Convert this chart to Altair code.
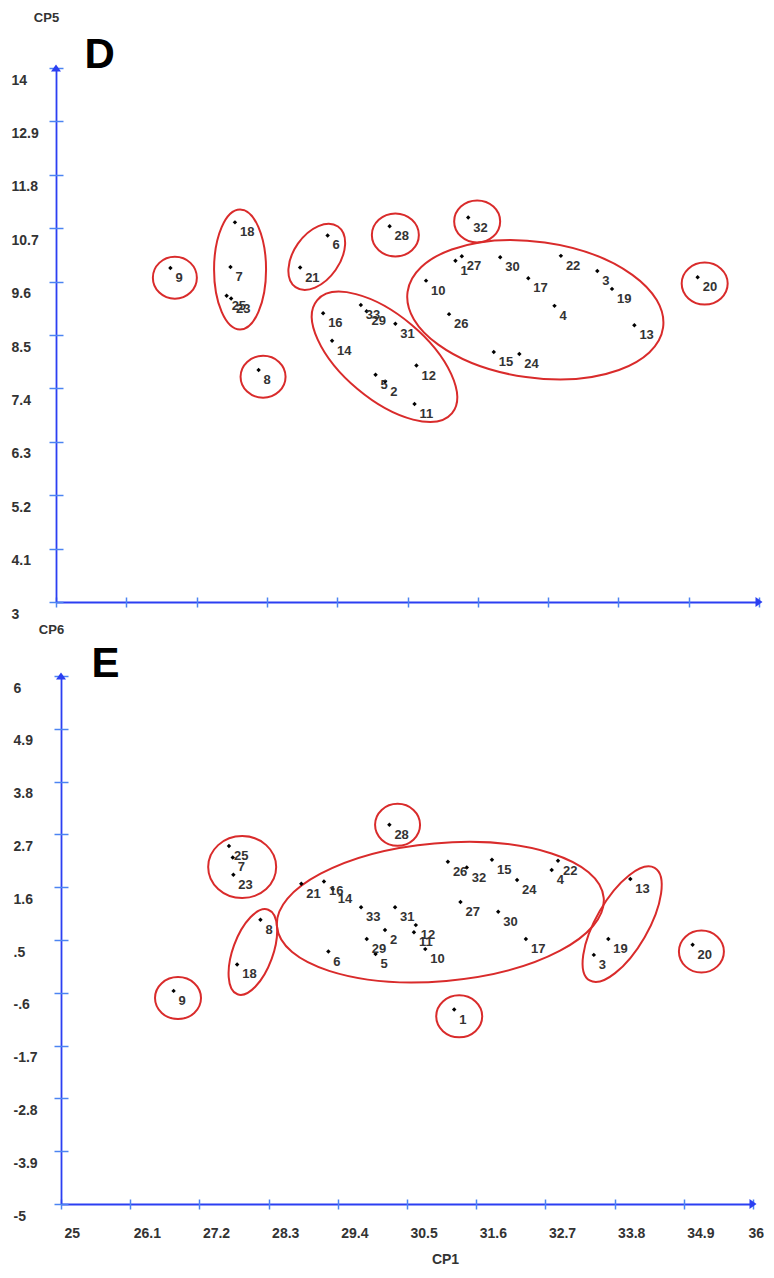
import altair as alt
import pandas as pd

# ---------------- data ----------------
ids = [str(i) for i in range(1, 34)]
cp1 = [31.25, 30.15, 33.47, 32.80, 30.00, 29.25, 27.73, 28.17, 26.79, 30.79,
       30.61, 30.64, 34.05, 29.32, 31.85, 29.18, 32.39, 27.80, 33.70, 35.04,
       28.82, 32.90, 27.74, 32.25, 27.67, 31.15, 31.35, 30.22, 29.86, 31.95,
       30.31, 31.45, 29.77]
cp5 = [10.03, 7.54, 9.82, 9.10, 7.68, 10.55, 9.90, 7.78, 9.88, 9.62,
       7.08, 7.87, 8.70, 8.38, 8.15, 8.95, 9.67, 10.82, 9.45, 9.69,
       9.89, 10.13, 9.25, 8.11, 9.31, 8.93, 10.12, 10.74, 8.99, 10.10,
       8.73, 10.92, 9.12]
cp6 = [-0.95, 0.71, 0.19, 1.96, 0.21, 0.26, 2.22, 0.92, -0.56, 0.31,
       0.66, 0.81, 1.77, 1.56, 2.17, 1.72, 0.52, -0.01, 0.52, 0.40,
       1.67, 2.15, 1.86, 1.75, 2.46, 2.13, 1.29, 2.90, 0.52, 1.09,
       1.18, 2.01, 1.18]

x_domain = [25, 36]
x_ticks = [25, 26.1, 27.2, 28.3, 29.4, 30.5, 31.6, 32.7, 33.8, 34.9, 36]
x_labels = ["25", "26.1", "27.2", "28.3", "29.4", "30.5", "31.6", "32.7", "33.8", "34.9", "36"]
y5_domain = [3, 14]
y5_ticks = [3, 4.1, 5.2, 6.3, 7.4, 8.5, 9.6, 10.7, 11.8, 12.9, 14]
y5_labels = ["3", "4.1", "5.2", "6.3", "7.4", "8.5", "9.6", "10.7", "11.8", "12.9", "14"]
y6_domain = [-5, 6]
y6_ticks = [-5, -3.9, -2.8, -1.7, -0.6, 0.5, 1.6, 2.7, 3.8, 4.9, 6]
y6_labels = ["-5", "-3.9", "-2.8", "-1.7", "-.6", ".5", "1.6", "2.7", "3.8", "4.9", "6"]

# group outlines: centres (data units)
ell5_x = [26.86, 27.88, 29.08, 30.31, 31.59, 32.50, 35.15, 28.24, 30.14]
ell5_y = [9.68, 9.85, 10.11, 10.56, 10.84, 9.02, 9.56, 7.64, 8.05]
ell6_x = [27.88, 30.35, 31.03, 28.05, 26.86, 31.33, 33.92, 35.18]
ell6_y = [2.02, 2.90, 1.08, 0.25, -0.71, -1.09, 0.83, 0.26]
# outline styles: semi-axes in px and rotation
ell5_style = [(22, 21, 0), (60, 26, 90), (37, 23, 305), (23.5, 21.5, 0), (23, 21, 0),
              (129, 68, 8), (23, 21, 0), (22.5, 21, 0), (88, 42, 40)]
ell6_style = [(34, 31, 0), (22.5, 21, 0), (164, 69, 355), (45, 20, 290), (23, 21, 0),
              (23, 21, 0), (65, 26, 300), (22.5, 21, 0)]

FONT = "Liberation Sans"
BLUE = "#2b3ff2"
TICK = "#4c84f2"
RED = "#d92b2b"
GREY = "#333333"

df = pd.DataFrame({"id": ids, "cp1": cp1, "cp5": cp5, "cp6": cp6})


def lab_expr(vals, labs):
    return ("[" + ",".join("'%s'" % s for s in labs) + "][indexof(["
            + ",".join(repr(v) for v in vals) + "], datum.value)]")


def make_panel(ycol, y_domain, y_ticks, y_labels, ytitle, letter, ex, ey, estyle,
               height, xrange, yshift, xlabels, ytitle_xy, letter_xy):
    W = 703
    xs = alt.Scale(domain=x_domain, nice=False, zero=False, range=xrange)
    ys = alt.Scale(domain=y_domain, nice=False, zero=False)

    dom_x = dict(orient="bottom", domain=True, domainColor=BLUE, domainWidth=1.8,
                 ticks=False, labels=False, grid=False)
    if xlabels:
        dom_x.update(title="CP1", titleX=389, titleY=55, titleAlign="center",
                     titleBaseline="middle", titleFontSize=14, titleFontWeight="bold",
                     titleColor=GREY, titleFont=FONT)
    else:
        dom_x.update(title=None)
    dom_y = dict(orient="left", offset=-yshift, domain=True, domainColor=BLUE,
                 domainWidth=1.8, ticks=False, labels=False, grid=False,
                 title=ytitle, titleX=ytitle_xy[0], titleY=ytitle_xy[1], titleAngle=0,
                 titleAlign="center", titleBaseline="middle", titleFontSize=13,
                 titleFontWeight="bold", titleColor=GREY, titleFont=FONT)
    tick_x = dict(orient="bottom", offset=-5, domain=False, ticks=True, tickSize=10,
                  tickColor=TICK, tickWidth=1.5, values=x_ticks, grid=False, title=None,
                  labels=xlabels)
    if xlabels:
        tick_x.update(labelAlign="left", labelBaseline="top", labelPadding=17,
                      labelOffset={"condition": {"test": "datum.value == %r" % x_domain[1],
                                                 "value": -5}, "value": 3},
                      labelExpr=lab_expr(x_ticks, x_labels),
                      labelFlush=False, labelOverlap=False, labelFontSize=14,
                      labelFontWeight="bold", labelColor=GREY, labelFont=FONT)
    tick_y = dict(orient="left", offset=-(yshift + 7), domain=False, ticks=True,
                  tickSize=14, tickColor=TICK, tickWidth=1.5, values=y_ticks, grid=False,
                  title=None, labels=True, labelAlign="left", labelBaseline="top",
                  labelPadding=38 + (3 if yshift else 0), labelOffset=5,
                  labelExpr=lab_expr(y_ticks, y_labels), labelFlush=False,
                  labelOverlap=False, labelFontSize=14, labelFontWeight="bold",
                  labelColor=GREY, labelFont=FONT)
    letter_axis = dict(orient="top", domain=False, ticks=False, labels=False, grid=False,
                       title=letter, titleX=letter_xy[0], titleY=letter_xy[1],
                       titleAlign="left", titleBaseline="alphabetic", titleAngle=0,
                       titleFontSize=42, titleFontWeight="bold", titleColor="black",
                       titleFont=FONT)

    layers = []
    for cx, cy, (a, b, ang) in zip(ex, ey, estyle):
        r = b / a
        path = "M -1 0 A 1 %.4f 0 1 1 1 0 A 1 %.4f 0 1 1 -1 0 Z" % (r, r)
        layers.append(
            alt.Chart(pd.DataFrame({"cx": [cx], "cy": [cy]}))
            .mark_point(shape=path, size=(2 * a) ** 2, angle=ang, filled=False,
                        color=RED, stroke=RED, strokeWidth=2, opacity=1)
            .encode(x=alt.X("cx:Q", scale=xs, axis=None),
                    y=alt.Y("cy:Q", scale=ys, axis=None))
        )

    pts = alt.Chart(df).mark_point(shape="diamond", filled=True, size=20,
                                   color="black", opacity=1).encode(
        x=alt.X("cp1:Q", scale=xs, axis=alt.Axis(**dom_x)),
        y=alt.Y(ycol + ":Q", scale=ys, axis=alt.Axis(**dom_y)),
    )
    txt = alt.Chart(df).mark_text(align="left", baseline="middle", dx=5, dy=10,
                                  fontSize=13, fontWeight="bold", color=GREY,
                                  font=FONT).encode(
        x=alt.X("cp1:Q", scale=xs, axis=alt.Axis(**tick_x)),
        y=alt.Y(ycol + ":Q", scale=ys, axis=alt.Axis(**tick_y)),
        text="id:N",
    )
    arrow_up = alt.Chart(pd.DataFrame({"ax": [x_domain[0]], "ay": [y_domain[1]]})).mark_point(
        shape="M -1 0.7 L 0 -0.7 L 1 0.7 Z", size=100, filled=True, color=BLUE, opacity=1
    ).encode(x=alt.X("ax:Q", scale=xs, axis=alt.Axis(**letter_axis)),
             y=alt.Y("ay:Q", scale=ys, axis=None))
    arrow_right = alt.Chart(pd.DataFrame({"ax": [x_domain[1]], "ay": [y_domain[0]]})).mark_point(
        shape="M -0.7 -1 L 0.7 0 L -0.7 1 Z", size=100, filled=True, color=BLUE, opacity=1
    ).encode(x=alt.X("ax:Q", scale=xs, axis=None),
             y=alt.Y("ay:Q", scale=ys, axis=None))

    return (alt.layer(*layers, pts, txt, arrow_up, arrow_right)
            .resolve_axis(x="independent", y="independent")
            .properties(width=W, height=height))


top = make_panel("cp5", y5_domain, y5_ticks, y5_labels, "CP5", "D", ell5_x, ell5_y,
                 ell5_style, 534, [0, 703], 0, False, (-10, -51), (28, -1))
bottom = make_panel("cp6", y6_domain, y6_ticks, y6_labels, "CP6", "E", ell6_x, ell6_y,
                    ell6_style, 528, [5, 697], 5, True, (-10, -47), (35, 0))

chart = (alt.vconcat(top, bottom, spacing=2)
         .properties(padding={"left": 3, "top": 3, "right": 0, "bottom": 0},
                     background="white")
         .configure(font=FONT)
         .configure_view(stroke=None))

chart.save("out.html", embed_options={"renderer": "svg", "actions": False})
